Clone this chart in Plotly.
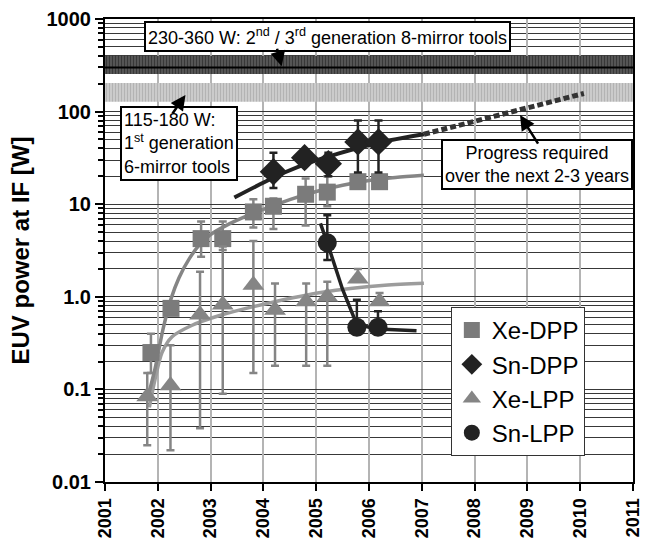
import plotly.graph_objects as go

# ---------------- data ----------------
years_ticks = list(range(2001, 2012))
y_tickvals = [0.01, 0.1, 1, 10, 100, 1000]
y_ticktext = ["0.01", "0.1", "1.0", "10", "100", "1000"]

# Xe-DPP
xe_dpp_x = [2001.87, 2002.25, 2002.82, 2003.23, 2003.81, 2004.19, 2004.80, 2005.21, 2005.79, 2006.20]
xe_dpp_y = [0.25, 0.75, 4.25, 4.25, 8.25, 9.5, 12.8, 13.5, 17.5, 17.5]
xe_dpp_lo = [0.15, 0.75, 2.7, 3.2, 5.6, 5.4, 5.9, 9.5, 17.5, 17.5]
xe_dpp_hi = [0.40, 0.75, 6.5, 6.5, 11.3, 11.5, 18.9, 20.0, 17.5, 17.5]
xe_dpp_fit_x = [2001.80, 2001.95, 2002.10, 2002.25, 2002.40, 2002.60, 2002.80, 2003.00, 2003.30, 2003.60, 2004.00, 2004.50, 2005.00, 2005.50, 2006.00, 2006.50, 2007.04]
xe_dpp_fit_y = [0.078, 0.17, 0.45, 0.95, 1.6, 2.6, 3.7, 4.7, 5.9, 7.1, 8.8, 11.2, 13.7, 16.0, 18.0, 19.4, 20.5]

# Sn-DPP
sn_dpp_x = [2004.19, 2004.78, 2005.23, 2005.79, 2006.18]
sn_dpp_y = [22.4, 31.8, 27.4, 47.0, 47.0]
sn_dpp_lo = [15.0, 31.8, 20.0, 22.0, 22.0]
sn_dpp_hi = [36.0, 31.8, 36.0, 80.0, 80.0]
sn_dpp_fit_x = [2003.45, 2003.9, 2004.4, 2004.9, 2005.4, 2005.9, 2006.4, 2007.04]
sn_dpp_fit_y = [11.8, 16.0, 22.0, 28.5, 35.0, 42.0, 49.0, 57.0]
sn_dpp_proj_x = [2007.04, 2010.07]
sn_dpp_proj_y = [57.0, 157.0]

# Xe-LPP
xe_lpp_x = [2001.80, 2002.24, 2002.80, 2003.23, 2003.81, 2004.22, 2004.81, 2005.21, 2005.79, 2006.20]
xe_lpp_y = [0.084, 0.11, 0.64, 0.82, 1.34, 0.72, 0.89, 1.0, 1.57, 0.89]
xe_lpp_lo = [0.025, 0.022, 0.038, 0.09, 0.15, 0.18, 0.18, 0.18, 1.57, 0.89]
xe_lpp_hi = [0.15, 0.30, 1.87, 3.5, 4.0, 1.39, 1.39, 1.45, 2.0, 1.1]
xe_lpp_fit_x = [2001.84, 2001.95, 2002.08, 2002.27, 2002.64, 2003.14, 2004.12, 2005.12, 2006.30, 2007.04]
xe_lpp_fit_y = [0.064, 0.13, 0.25, 0.37, 0.49, 0.62, 0.86, 1.12, 1.33, 1.40]

# Sn-LPP
sn_lpp_x = [2005.21, 2005.77, 2006.17]
sn_lpp_y = [3.83, 0.47, 0.47]
sn_lpp_lo = [2.5, 0.47, 0.47]
sn_lpp_hi = [7.6, 0.93, 0.70]
sn_lpp_fit_x = [2005.08, 2005.21, 2005.50, 2005.77, 2006.17, 2006.90]
sn_lpp_fit_y = [6.2, 3.83, 1.2, 0.50, 0.45, 0.43]

# target power bands (W)
band2_lo, band2_hi, band2_mid = 255, 400, 300
band1_lo, band1_hi = 128, 204

FONT = "Liberation Sans, Arial, sans-serif"

fig = go.Figure()

def band(lo, hi, fg, bg, size, sol):
    fig.add_trace(go.Scatter(
        x=[2001, 2011, 2011, 2001, 2001], y=[lo, lo, hi, hi, lo],
        mode="lines", fill="toself", line=dict(width=0),
        fillcolor=bg,
        fillpattern=dict(shape="|", fgcolor=fg, bgcolor=bg, size=size, solidity=sol),
        hoverinfo="skip", showlegend=False))

band(band2_lo, band2_hi, "#111111", "#5e5e5e", 3, 0.5)
band(band1_lo, band1_hi, "#9a9a9a", "#cdcdcd", 3, 0.4)
fig.add_trace(go.Scatter(x=[2001, 2011], y=[band2_mid, band2_mid], mode="lines",
                         line=dict(color="#000000", width=2), showlegend=False, hoverinfo="skip"))

# fit lines
fig.add_trace(go.Scatter(x=xe_lpp_fit_x, y=xe_lpp_fit_y, mode="lines", line=dict(color="#9c9c9c", width=3.5, shape="spline", smoothing=0.8), showlegend=False))
fig.add_trace(go.Scatter(x=xe_dpp_fit_x, y=xe_dpp_fit_y, mode="lines", line=dict(color="#858585", width=3.5, shape="spline", smoothing=0.8), showlegend=False))
fig.add_trace(go.Scatter(x=sn_dpp_fit_x, y=sn_dpp_fit_y, mode="lines", line=dict(color="#222222", width=4, shape="spline"), showlegend=False))
fig.add_trace(go.Scatter(x=sn_dpp_proj_x, y=sn_dpp_proj_y, mode="lines", line=dict(color="#333333", width=5, dash="6px,3px"), showlegend=False))
fig.add_trace(go.Scatter(x=sn_lpp_fit_x, y=sn_lpp_fit_y, mode="lines", line=dict(color="#222222", width=3.5), showlegend=False))

def err(y, lo, hi):
    return dict(type="data", symmetric=False,
                array=[h - v for v, h in zip(y, hi)],
                arrayminus=[v - l for v, l in zip(y, lo)])

def pts(name, x, y, lo, hi, symbol, color, ecolor, size):
    e = err(y, lo, hi)
    e.update(color=ecolor, thickness=2.5, width=4)
    fig.add_trace(go.Scatter(x=x, y=y, name=name, mode="markers",
                             marker=dict(symbol=symbol, color=color, size=size),
                             error_y=e))

pts("Xe-DPP", xe_dpp_x, xe_dpp_y, xe_dpp_lo, xe_dpp_hi, "square", "#7b7b7b", "#858585", 17)
pts("Sn-DPP", sn_dpp_x, sn_dpp_y, sn_dpp_lo, sn_dpp_hi, "diamond", "#222222", "#222222", 21)
pts("Xe-LPP", xe_lpp_x, xe_lpp_y, xe_lpp_lo, xe_lpp_hi, "triangle-up", "#858585", "#858585", 19)
pts("Sn-LPP", sn_lpp_x, sn_lpp_y, sn_lpp_lo, sn_lpp_hi, "circle", "#222222", "#222222", 19)

minor_vals = [m * 10 ** d for d in range(-2, 3) for m in range(2, 10)]

fig.update_layout(
    width=651, height=546,
    margin=dict(l=105, r=8, t=18, b=46),
    paper_bgcolor="white", plot_bgcolor="white",
    font=dict(family=FONT, color="black"),
    xaxis=dict(range=[2001, 2011], tickvals=years_ticks, tickangle=-90,
               tickfont=dict(family=FONT, size=18, color="black", weight="bold"),
               showgrid=True, gridcolor="#b4b4b4", gridwidth=1.5,
               showline=True, linecolor="black", linewidth=2, mirror=True,
               ticks="outside", ticklen=7, tickwidth=2, tickcolor="black", zeroline=False),
    yaxis=dict(type="log", range=[-2, 3], tickvals=y_tickvals, ticktext=y_ticktext,
               tickfont=dict(family=FONT, size=20, color="black", weight="bold"),
               showgrid=True, gridcolor="#383838", gridwidth=1,
               showline=True, linecolor="black", linewidth=2, mirror=True,
               ticks="outside", ticklen=8, tickwidth=2, tickcolor="black",
               minor=dict(tickvals=minor_vals, ticks="outside", ticklen=5, tickwidth=1.5,
                          tickcolor="black", showgrid=True, gridcolor="#383838", gridwidth=1),
               title=dict(text="EUV power at IF [W]", standoff=10,
                          font=dict(family=FONT, size=24, color="black", weight="bold"))),
    legend=dict(x=0.655, y=0.378, xanchor="left", yanchor="top",
                bgcolor="white", bordercolor="#333333", borderwidth=1,
                font=dict(family=FONT, size=24, color="black"),
                tracegroupgap=0, itemsizing="trace"),
    showlegend=True,
)

box = dict(xref="paper", yref="paper", showarrow=False, bgcolor="white",
           bordercolor="black", borderwidth=2, borderpad=2,
           font=dict(family=FONT, size=18, color="black"))
fig.add_annotation(x=0.422, y=0.963, xanchor="center", yanchor="middle",
                   text="230-360 W: 2<sup>nd</sup> / 3<sup>rd</sup> generation 8-mirror tools", **box)
fig.add_annotation(x=0.028, y=0.731, xanchor="left", yanchor="middle", align="left",
                   text="115-180 W:<br>1<sup>st</sup> generation<br>6-mirror tools", **box)
fig.add_annotation(x=0.818, y=0.685, xanchor="center", yanchor="middle", align="center",
                   text="Progress required<br>over the next 2-3 years", **box)

arrow = dict(xref="paper", yref="paper", text="", showarrow=True, arrowhead=2,
             arrowsize=1.2, arrowwidth=2.5, arrowcolor="black", axref="pixel", ayref="pixel")
fig.add_annotation(x=0.3346, y=0.898, ax=-5, ay=-19, **arrow)
fig.add_annotation(x=0.1524, y=0.836, ax=-14, ay=20, **arrow)
fig.add_annotation(x=0.786, y=0.7925, ax=19, ay=30, **arrow)

fig.write_html("out.html")
